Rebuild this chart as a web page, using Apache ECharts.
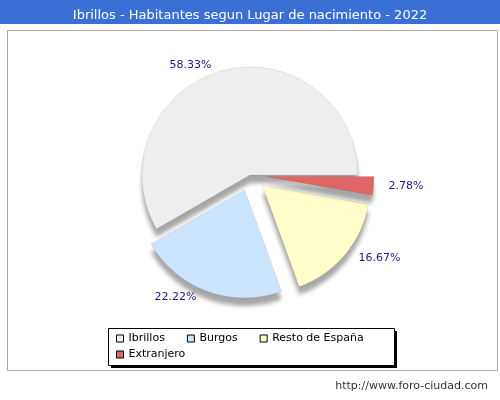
<!DOCTYPE html>
<html lang="en">
<head>
	<meta charset="UTF-8">
	<script src="https://cdn.jsdelivr.net/npm/echarts@6/dist/echarts.min.js"></script>
	<style>
		* { margin: 0; padding: 0; }
		body, html, #main { height: 100%; width: 100%; background: #fff; }
	</style>
</head>
<body>
	<div id="main"></div>
	<script>
		const categories = ['Ibrillos', 'Burgos', 'Resto de España', 'Extranjero'];
		const counts = [21, 8, 6, 1];
		const colors = ['#eeeeee', '#cce5ff', '#ffffcc', '#e06666'];
		const exploded = [false, true, true, true];

		const myChart = echarts.init(document.getElementById('main'));

		const legendText = { fontSize: 11, color: '#000', fontFamily: 'DejaVu Sans' };
		const legendCommon = {
			orient: 'horizontal', icon: 'rect', itemWidth: 7, itemHeight: 7, itemGap: 22, padding: 0,
			textStyle: legendText, itemStyle: { borderColor: '#000', borderWidth: 1 }
		};

		const option = {
			graphic: [
				{ type: 'rect', left: 0, top: 0, shape: { width: 500, height: 24 }, style: { fill: '#3a70d6' } },
				{ type: 'rect', left: 5, top: 28, shape: { width: 490, height: 340 }, style: { fill: 'none', stroke: '#aaa' } },
				{ type: 'rect', left: 111, top: 331, shape: { width: 286, height: 37 }, style: { fill: '#000' } },
				{ type: 'rect', left: 108, top: 328, shape: { width: 286, height: 37 }, style: { fill: '#fff', stroke: '#000' } },
				{ type: 'text', right: 12, top: 381, style: { text: 'http://www.foro-ciudad.com', fill: '#333', font: '11px DejaVu Sans' } }
			],
			title: {
				text: 'Ibrillos - Habitantes segun Lugar de nacimiento - 2022',
				left: 'center', top: 4,
				textStyle: { color: '#fff', fontSize: 13, fontWeight: 'normal', fontFamily: 'DejaVu Sans' }
			},
			legend: [
				Object.assign({ left: 116, top: 333, data: categories.slice(0, 3) }, legendCommon),
				Object.assign({ left: 116, top: 349, data: categories.slice(3) }, legendCommon)
			],
			series: [{
				type: 'pie',
				center: [250, 175],
				radius: [0, 108],
				startAngle: 0,
				clockwise: false,
				selectedMode: 'multiple',
				selectedOffset: 16,
				animation: false,
				itemStyle: { borderColor: 'rgba(0,0,0,0.15)', borderWidth: 0.5, shadowColor: 'rgba(0,0,0,0.35)', shadowOffsetY: 8, shadowBlur: 4 },
				label: {
					formatter: p => p.percent.toFixed(2) + '%',
					color: '#1a1a8c', fontSize: 11, fontFamily: 'DejaVu Sans'
				},
				labelLine: { show: false, length: 6, length2: 4 },
				data: categories.map((c, i) => ({
					name: c, value: counts[i], selected: exploded[i],
					itemStyle: { color: colors[i] }
				}))
			}]
		};
		myChart.setOption(option);
	</script>
</body>
</html>
